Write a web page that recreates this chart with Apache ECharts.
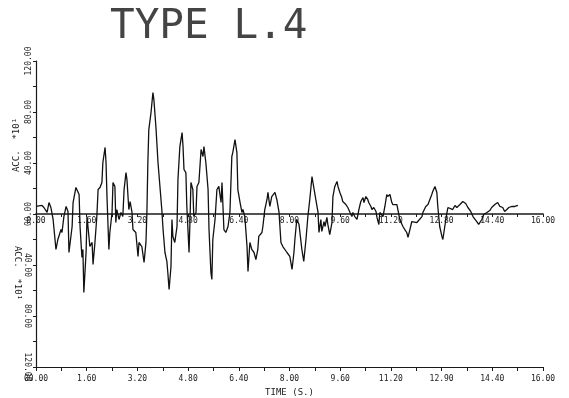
<!DOCTYPE html>
<html>
<head>
<meta charset="utf-8">
<script src="https://cdn.jsdelivr.net/npm/echarts@6/dist/echarts.min.js"></script>
<style>
  html, body { margin: 0; padding: 0; background: #fff; }
  #chart { width: 569px; height: 398px; }
</style>
</head>
<body>
<div id="chart"></div>
<script>
// time (s) and acceleration (x10)
var time = [0.00,0.19,0.25,0.35,0.41,0.47,0.54,0.60,0.63,0.69,0.79,0.82,0.88,0.95,1.01,1.04,1.14,1.17,1.26,1.32,
  1.36,1.39,1.45,1.48,1.51,1.58,1.61,1.67,1.70,1.77,1.80,1.86,1.92,1.96,2.02,2.08,2.11,2.18,2.21,2.24,
  2.30,2.33,2.40,2.43,2.49,2.52,2.55,2.62,2.68,2.74,2.78,2.84,2.87,2.93,2.97,3.03,3.06,3.15,3.22,3.25,
  3.34,3.41,3.47,3.50,3.53,3.56,3.63,3.69,3.72,3.79,3.85,3.97,4.01,4.07,4.13,4.16,4.20,4.26,4.29,4.32,
  4.38,4.45,4.48,4.54,4.61,4.64,4.67,4.73,4.76,4.83,4.86,4.89,4.95,4.98,5.05,5.08,5.14,5.21,5.27,5.30,
  5.36,5.43,5.46,5.52,5.55,5.58,5.65,5.71,5.77,5.84,5.87,5.93,5.99,6.06,6.12,6.18,6.21,6.28,6.34,6.37,
  6.44,6.50,6.53,6.59,6.66,6.69,6.75,6.81,6.88,6.94,7.00,7.03,7.13,7.16,7.22,7.29,7.32,7.38,7.44,7.54,
  7.60,7.67,7.73,7.79,7.92,8.01,8.08,8.14,8.17,8.23,8.30,8.39,8.45,8.52,8.58,8.64,8.71,8.74,8.83,8.90,
  8.93,8.99,9.02,9.09,9.12,9.18,9.21,9.27,9.34,9.37,9.43,9.50,9.53,9.59,9.65,9.68,9.78,9.84,9.91,9.97,
  10.00,10.06,10.13,10.19,10.25,10.32,10.35,10.41,10.47,10.50,10.57,10.60,10.66,10.73,10.76,10.82,10.85,10.91,10.95,11.01,
  11.07,11.10,11.17,11.23,11.26,11.32,11.39,11.42,11.48,11.58,11.64,11.70,11.74,11.80,11.86,11.92,12.02,12.08,12.18,12.21,
  12.30,12.37,12.43,12.49,12.52,12.59,12.65,12.68,12.74,12.81,12.84,12.90,12.97,13.00,13.06,13.15,13.22,13.28,13.38,13.47,
  13.56,13.63,13.72,13.79,13.91,13.97,14.07,14.13,14.23,14.32,14.38,14.48,14.57,14.64,14.73,14.79,14.86,14.92,15.02,15.11,
  15.21];
var acc = [5.9,6.7,5.1,1.2,9.0,5.1,-4.3,-20.0,-27.8,-20.0,-12.2,-14.5,-2.0,5.9,2.0,-30.2,-9.8,9.0,20.8,21.6,
  15.3,-9.8,-34.1,-27.8,-61.5,-30.2,-2.0,-17.6,-25.5,-22.3,-39.6,-22.3,-2.0,19.2,20.8,24.7,40.4,52.2,40.4,13.7,
  -27.8,-14.5,1.2,24.7,21.6,-6.7,3.5,-4.3,1.2,-2.0,19.2,32.5,27.0,3.5,9.8,1.2,-12.2,-14.5,-33.3,-22.3,
  -25.5,-38.0,-22.3,1.2,40.4,66.2,79.6,95.3,89.8,66.2,40.4,3.5,-12.2,-30.2,-37.2,-45.9,-59.2,-41.2,-4.3,-17.6,
  -22.3,-9.8,27.0,52.9,63.9,52.9,34.9,32.5,5.9,-30.2,-4.3,24.7,19.2,-2.0,1.2,21.6,24.7,50.6,45.1,52.9,
  40.4,19.2,-12.2,-45.9,-51.4,-20.0,-4.3,19.2,21.6,9.0,24.7,-12.2,-14.5,-9.8,1.2,45.1,48.2,58.4,48.2,19.2,
  9.0,1.2,3.5,-2.0,-25.5,-45.1,-22.3,-27.8,-30.2,-35.7,-27.8,-17.6,-14.5,-9.8,3.5,11.4,16.9,5.9,13.7,16.9,
  11.4,1.2,-22.3,-25.5,-30.2,-33.3,-43.5,-30.2,-20.0,-4.3,-8.2,-27.8,-37.2,-20.0,-2.0,11.4,29.4,24.7,11.4,1.2,
  -14.5,-4.3,-13.7,-5.9,-9.8,-2.7,-8.2,-16.1,-6.7,13.7,21.6,25.5,21.6,16.9,12.9,9.8,7.4,5.1,1.2,-2.0,
  1.2,-2.0,-4.3,3.5,9.8,12.9,9.0,13.7,11.4,9.0,5.9,3.5,5.1,2.0,-2.7,-8.2,1.2,2.0,-2.0,5.9,
  15.3,13.7,15.3,9.0,7.4,5.9,7.4,3.5,-4.3,-9.8,-12.2,-14.5,-18.4,-12.2,-5.9,-5.1,-6.7,-8.2,-2.0,1.2,
  5.9,7.4,11.4,15.3,17.6,21.6,16.9,5.9,-9.8,-17.6,-20.0,-9.8,1.2,5.1,5.9,3.5,6.7,5.1,7.4,9.8,
  8.2,5.1,2.0,-2.0,-5.9,-8.2,-4.3,-0.4,1.2,2.7,5.1,7.4,9.0,5.9,5.1,2.0,3.5,5.1,5.9,5.9,
  6.7];

// tick labels as printed
var xLabels = ['00.00','1.60','3.20','4.80','6.40','8.00','9.60','11.20','12.90','14.40','16.00'];
var zeroLineLabels = ['0.00','1.60','3.20','4.80','6.40','8.00','9.60','11.20','12.80','14.40','16.00'];
var yPosLabels = ['00.00','40.00','80.00','120.00'];
var yNegLabels = ['', '40.00','80.00','120.00'];

var chart = echarts.init(document.getElementById('chart'));
var ink = '#1a1a1a';
var mono = 'DejaVu Sans Mono';

var points = time.map(function (t, i) { return [t, acc[i]]; });

function xIndex(v) {
  var k = Math.round(v / 0.8);
  return k % 2 === 0 ? k / 2 : -1;
}

var option = {
  animation: false,
  backgroundColor: '#fff',
  grid: [
    { left: 36, right: 26, top: 61, bottom: 31, outerBoundsMode: 'none' },
    // upper half only: its bottom edge is the zero line of the main grid
    { left: 36, right: 26, top: 61, bottom: 184, outerBoundsMode: 'none' }
  ],
  graphic: [
    { type: 'text', left: 110, top: 7,
      style: { text: 'TYPE L.4', font: '41px "DejaVu Sans Mono"', fill: '#444' } },
    { type: 'text', x: 17, y: 145, rotation: Math.PI / 2,
      style: { text: 'ACC.  *10\u00b9', font: '9px "DejaVu Sans Mono"', fill: ink,
        align: 'center', verticalAlign: 'middle' } },
    { type: 'text', x: 17, y: 273, rotation: -Math.PI / 2,
      style: { text: 'ACC.  *10\u00b9', font: '9px "DejaVu Sans Mono"', fill: ink,
        align: 'center', verticalAlign: 'middle' } }
  ],
  xAxis: [
    {
      gridIndex: 0, type: 'value', min: 0, max: 16, interval: 0.8, position: 'bottom',
      axisLine: { onZero: false, lineStyle: { color: ink, width: 1.2 } },
      axisTick: { length: 4, lineStyle: { color: ink } },
      splitLine: { show: false },
      axisLabel: {
        color: ink, fontFamily: mono, fontSize: 8, margin: 8,
        formatter: function (v) { var i = xIndex(v); return i >= 0 ? xLabels[i] : ''; }
      },
      name: 'TIME (S.)', nameLocation: 'middle', nameGap: 20,
      nameTextStyle: { color: ink, fontFamily: mono, fontSize: 9 }
    },
    {
      gridIndex: 1, type: 'value', min: 0, max: 16, interval: 0.8, position: 'bottom',
      axisLine: { onZero: false, lineStyle: { color: ink, width: 1.6 } },
      axisTick: { length: 3, lineStyle: { color: ink } },
      splitLine: { show: false },
      axisLabel: {
        color: ink, fontFamily: mono, fontSize: 8, margin: 3,
        formatter: function (v) { var i = xIndex(v); return i >= 0 ? zeroLineLabels[i] : ''; }
      }
    }
  ],
  yAxis: [
    {
      gridIndex: 0, type: 'value', min: -120, max: 120, interval: 20, position: 'left',
      axisLine: { onZero: false, lineStyle: { color: ink, width: 1.2 } },
      axisTick: { length: 3, lineStyle: { color: ink } },
      splitLine: { show: false },
      axisLabel: {
        color: ink, fontFamily: mono, fontSize: 8, margin: 3, rotate: 90,
        formatter: function (v) {
          if (v < 0 || Math.round(v) % 40 !== 0) return '';
          return yPosLabels[Math.round(v / 40)];
        }
      }
    },
    {
      gridIndex: 0, type: 'value', min: -120, max: 120, interval: 20, position: 'left',
      axisLine: { show: false, onZero: false },
      axisTick: { show: false },
      splitLine: { show: false },
      axisLabel: {
        color: ink, fontFamily: mono, fontSize: 8, margin: 5, rotate: -90,
        formatter: function (v) {
          if (v >= 0 || Math.round(v) % 40 !== 0) return '';
          return yNegLabels[Math.round(-v / 40)];
        }
      }
    },
    {
      gridIndex: 1, type: 'value', min: 0, max: 120, show: false
    }
  ],
  series: [{
    type: 'line',
    xAxisIndex: 0,
    yAxisIndex: 0,
    data: points,
    showSymbol: false,
    lineStyle: { color: '#111', width: 1.3 }
  }]
};

chart.setOption(option);
</script>
</body>
</html>
